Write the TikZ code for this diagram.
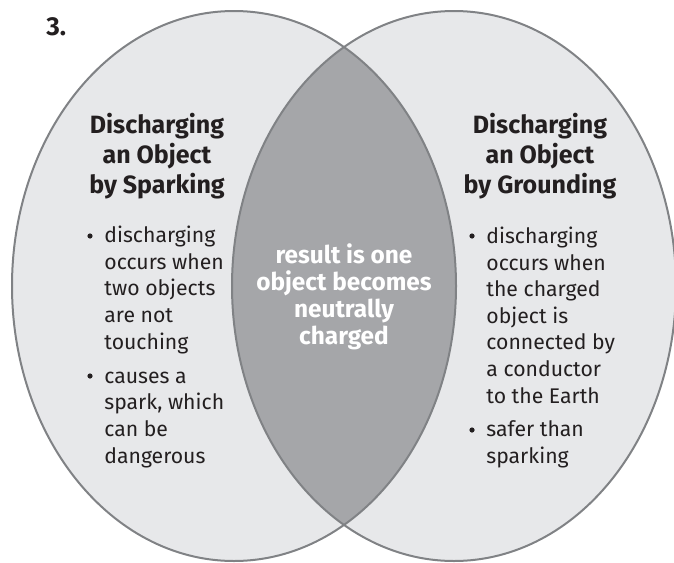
\documentclass[tikz,border=0pt]{standalone}
\usepackage{fontspec}
\setmainfont{Fira Sans}
\usepackage{tikz}

\definecolor{pale}{HTML}{E7E8EA}
\definecolor{mid}{HTML}{A5A6A9}
\definecolor{rim}{HTML}{808285}
\definecolor{ink}{HTML}{231F20}

\begin{document}
\begin{tikzpicture}[x=0.5pt,y=-0.5pt,
  head/.style={align=center,font=\fontsize{12.5}{15}\selectfont\bfseries,text=ink,inner sep=0pt,anchor=base},
  body/.style={align=left,font=\fontsize{10.6}{13.3}\selectfont,text=ink,inner sep=0pt,anchor=base west},
  dot/.style={circle,fill=ink,inner sep=0pt,minimum size=2.6pt}]
\useasboundingbox (0,0) rectangle (674,562);
% the two circles
\fill[pale] (234,286) ellipse [x radius=222, y radius=275];
\fill[pale] (454,286) ellipse [x radius=222, y radius=275];
\begin{scope}
\clip (234,286) ellipse [x radius=222, y radius=275];
\fill[mid] (454,286) ellipse [x radius=222, y radius=275];
\end{scope}
\draw[rim,line width=1pt] (234,286) ellipse [x radius=222, y radius=275];
\draw[rim,line width=1pt] (454,286) ellipse [x radius=222, y radius=275];

\node[anchor=base west,inner sep=0pt,font=\fontsize{13}{15}\selectfont\bfseries,text=ink] (num) at (46,35) {3.};

% multi-line nodes sit on their last baseline
%left side
\node[head] (leftHead) at (157,193) {Discharging\\an Object\\by Sparking};
\node[dot] (ldot1) at (90,236) {};
\node[body] (litem1) at (104,349) {discharging\\occurs when\\two objects\\are not\\touching};
\node[dot] (ldot2) at (90,376) {};
\node[body] (litem2) at (104,463) {causes a\\spark, which\\can be\\dangerous};

%middle
\node[align=center,font=\fontsize{12.2}{13.5}\selectfont\bfseries,text=white,inner sep=0pt,anchor=base] (both) at (344,344) {result is one\\object becomes\\neutrally\\charged};

%right side
\node[head] (rightHead) at (540,193) {Discharging\\an Object\\by Grounding};
\node[dot] (rdot1) at (472,236) {};
\node[body] (ritem1) at (486,403) {discharging\\occurs when\\the charged\\object is\\connected by\\a conductor\\to the Earth};
\node[dot] (rdot2) at (472,430) {};
\node[body] (ritem2) at (486,463) {safer than\\sparking};
\end{tikzpicture}
\end{document}
